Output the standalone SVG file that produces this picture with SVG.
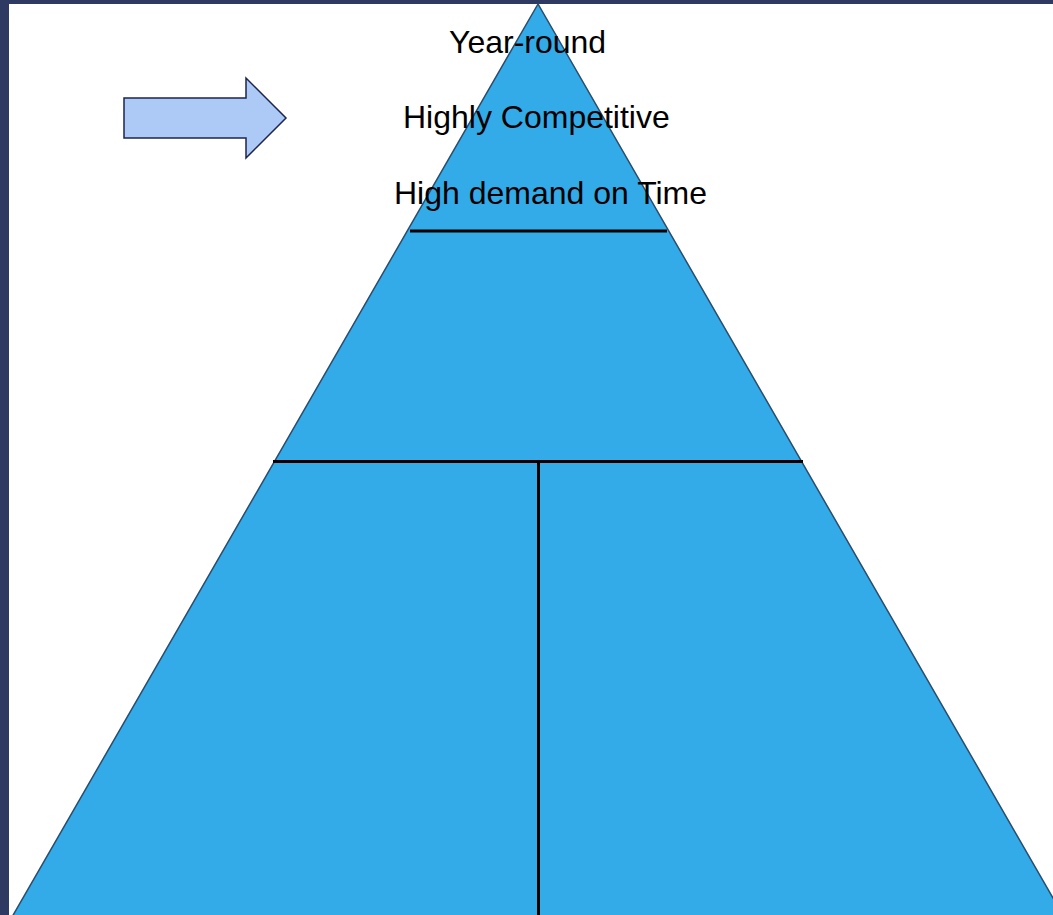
<svg xmlns="http://www.w3.org/2000/svg" width="1053" height="915" viewBox="0 0 1053 915">
  <style>
    .lbl { font-family: "Liberation Sans", Arial, sans-serif; font-size: 32px; fill: #000; }
    .div { stroke: #000; stroke-width: 3; fill: none; }
  </style>
  <rect x="0" y="0" width="1053" height="915" fill="#ffffff"/>
  <g id="frame">
    <rect x="0" y="0" width="9" height="915" fill="#2f3a62"/>
    <rect x="0" y="0" width="1053" height="4" fill="#2f3a62"/>
  </g>
  <g id="pyramid">
    <polygon points="538,4 12,917 1064,917" fill="#32abe8" stroke="#2a4d6e" stroke-width="1.5"/>
  </g>
  <g id="dividers">
    <line class="div" x1="410" y1="231" x2="667" y2="231"/>
    <line class="div" x1="273" y1="461.5" x2="803" y2="461.5"/>
    <line class="div" x1="538.5" y1="461" x2="538.5" y2="915"/>
  </g>
  <g id="arrow">
    <polygon points="124,98 246,98 246,78 286,118 246,158 246,138 124,138" fill="#adc9f6" stroke="#1c2452" stroke-width="1.5" stroke-linejoin="miter"/>
  </g>
  <g id="labels">
    <text class="lbl" x="449" y="53">Year-round</text>
    <text class="lbl" x="403" y="128">Highly Competitive</text>
    <text class="lbl" x="394" y="204">High demand on Time</text>
  </g>
</svg>
